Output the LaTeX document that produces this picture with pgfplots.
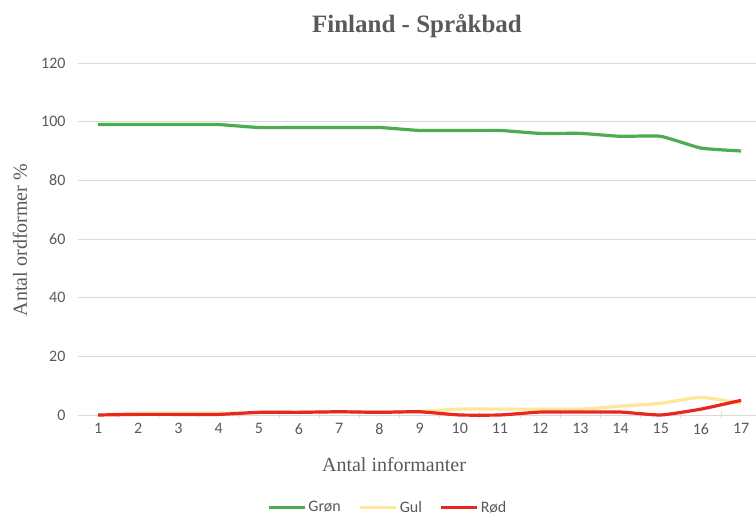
\documentclass[border=0pt]{standalone}
\usepackage{fontspec}
\setmainfont{Carlito}
\newfontfamily\seriffont{Liberation Serif}
\usepackage{pgfplots}
\pgfplotsset{compat=1.18}
\definecolor{cgreen}{RGB}{76,173,80}
\definecolor{cyellow}{RGB}{255,230,153}
\definecolor{cred}{RGB}{232,40,30}
\definecolor{ctext}{RGB}{89,89,89}
\definecolor{cgrid}{RGB}{217,217,217}
\begin{document}
\begin{tikzpicture}
\path[use as bounding box] (0pt,0pt) rectangle (756pt,518pt);
\begin{axis}[
  at={(78pt,103pt)}, anchor=south west,
  scale only axis, width=678pt, height=352pt,
  xmin=0.5, xmax=17.37, ymin=0, ymax=120,
  xtick={1,...,17}, major x tick style={draw=none},
  minor xtick={1.5,2.5,...,16.5}, minor tick length=6pt,
  minor x tick style={cgrid, line width=0.8pt},
  x tick style={yshift=-3pt},
  ytick={0,20,...,120},
  ymajorgrids, grid style={cgrid, line width=0.8pt},
  major y tick style={draw=none},
  axis x line*=bottom, axis y line*=left,
  y axis line style={draw=none},
  x axis line style={cgrid, line width=0.8pt, -},
  tick label style={font=\fontsize{16}{19}\selectfont, text=ctext},
  /pgf/number format/assume math mode=true,
  xticklabel style={yshift=-5pt},
  yticklabel style={xshift=-9pt},
  clip=false,
  legend style={at={(0.457,-0.262)}, anchor=center, legend columns=3, draw=none,
     font=\fontsize{16}{18}\selectfont, text=ctext, inner sep=0pt,
     /tikz/every even column/.append style={column sep=16pt}},
  legend image code/.code={\draw[#1, line width=3pt] (0pt,0pt) -- (36pt,0pt);},
]
\addplot[cgreen, line width=3.2pt, smooth, tension=0.3] coordinates {
(1,99)(2,99)(3,99)(4,99)(5,98)(6,98)(7,98)(8,98)(9,97)(10,97)(11,97)(12,96)(13,96)(14,95)(15,95)(16,91)(17,90)};
\addlegendentry{Grøn}
\addplot[cyellow, line width=3.2pt, smooth, tension=0.3] coordinates {
(1,0)(2,0.6)(3,0.6)(4,0.6)(5,0.8)(6,1)(7,1)(8,1)(9,1.2)(10,2)(11,2)(12,2)(13,2)(14,3)(15,4)(16,6)(17,4)};
\addlegendentry{Gul}
\addplot[cred, line width=3.2pt, smooth, tension=0.3] coordinates {
(1,0)(2,0.2)(3,0.2)(4,0.2)(5,0.9)(6,0.9)(7,1.1)(8,0.9)(9,1.1)(10,0)(11,0)(12,1)(13,1)(14,1)(15,0)(16,2)(17,5)};
\addlegendentry{Rød}
\end{axis}
\node[font=\seriffont\bfseries\fontsize{25}{29}\selectfont, text=ctext] at (417pt,492pt) {Finland - Språkbad};
\node[font=\seriffont\fontsize{20}{23}\selectfont, text=ctext] at (394pt,53pt) {Antal informanter};
\node[font=\seriffont\fontsize{20}{23}\selectfont, text=ctext, rotate=90] at (20pt,278pt) {Antal ordformer \%};
\end{tikzpicture}
\end{document}
